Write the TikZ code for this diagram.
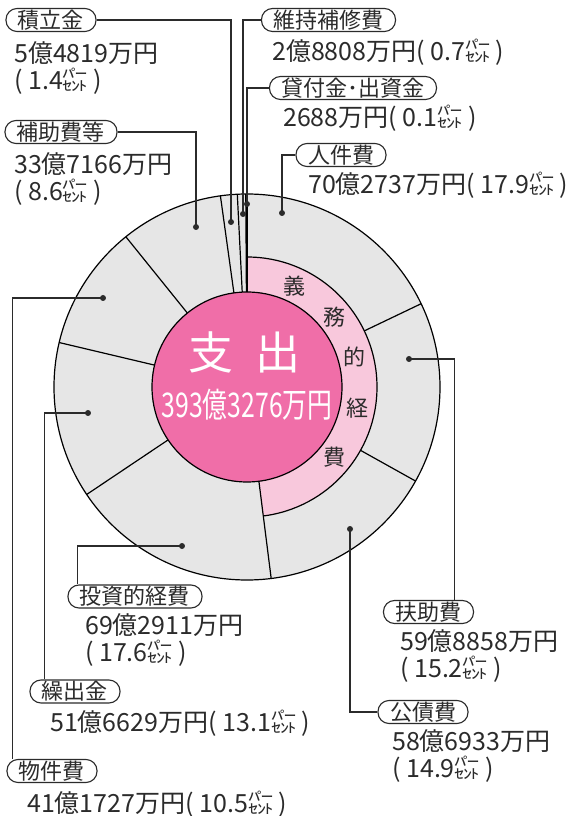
\documentclass[tikz,border=0pt]{standalone}
\usepackage{fontspec}
\setmainfont{Noto Sans CJK JP}
\definecolor{piegray}{HTML}{E6E6E6}
\definecolor{centerpink}{HTML}{F06EA8}
\definecolor{ringpink}{HTML}{F8C8DC}
\definecolor{inkgray}{HTML}{2B2B2B}
\tikzset{x=1pt, y=1pt,
pieline/.style={ % Sets the slice borders
draw=black,
line width=1.2pt},
leader/.style={ % Lines from slice to its box
draw=inkgray,
line width=1.1pt},
kbox/.style={ % Rounded box round each item name
draw=inkgray,
line width=1.1pt,
rounded corners=11pt,
fill=white,
text=inkgray,
inner xsep=12pt, inner ysep=0pt,
minimum height=23pt,
font=\fontsize{22}{22}\selectfont},
amount/.style={ % Money and share under each box
anchor=west,
align=left,
inner sep=0pt,
text=inkgray,
font=\fontsize{25}{27}\selectfont},
ringchar/.style={
text=inkgray,
inner sep=0pt,
font=\fontsize{22}{22}\selectfont}}

\begin{document}
\begin{tikzpicture}
	\useasboundingbox (-247,-429) rectangle (327,387);
	% pie
	\fill[piegray] (0,0) circle (193);
	\fill[ringpink] (90:130) arc[start angle=90, end angle=-82.8, radius=130]
		-- (-82.8:95) arc[start angle=-82.8, end angle=90, radius=95] -- cycle;
	\draw[pieline] (90:130) arc[start angle=90, end angle=-82.8, radius=130];
	\foreach \a/\r in {90/95, 25.56/130, -29.16/130, -82.8/95, -146.16/95,
		-193.32/95, -231.12/95, -262.08/95, -267.12/95, -269.64/95}
		\draw[pieline] (\a:\r) -- (\a:193);
	\draw[pieline] (0,0) circle (193);
	\node[circle, draw=black, line width=1.2pt, fill=centerpink, minimum size=190pt, inner sep=0pt] (center) at (0,0) {};
	\node[text=white, inner sep=0pt, font=\fontsize{45}{45}\selectfont] (shishutsu) at (-2,35) {支\hspace{22pt}出};
	\node[text=white, inner sep=0pt, font=\fontsize{34}{34}\selectfont] (total) at (0,-18) {\scalebox{0.73}[1]{393億3276万円}};
	\foreach \ch/\a [count=\i] in {義/64.8, 務/38.7, 的/15.7, 経/-10.8, 費/-38.8}
		\node[ringchar] (g\i) at (\a:112) {\ch};

	% dots on the slices
	\coordinate (d-jinken) at (35,174);
	\coordinate (d-kashi) at (0,183);
	\coordinate (d-iji) at (-4,173);
	\coordinate (d-tsumi) at (-16,165);
	\coordinate (d-hojo) at (-51,160);
	\coordinate (d-buppin) at (-144,89);
	\coordinate (d-kuri) at (-159,-26);
	\coordinate (d-toshi) at (-65,-159);
	\coordinate (d-fujo) at (162,28);
	\coordinate (d-kosai) at (103,-142);

	% item boxes
	\node[kbox] (tsumi) at (-196,367) {積立金};
	\node[kbox] (hojo) at (-186,255) {補助費等};
	\node[kbox] (iji) at (81.5,367) {維持補修費};
	\node[kbox] (kashi) at (106,299) {貸付金･出資金};
	\node[kbox] (jinken) at (94,232) {人件費};
	\node[kbox] (fujo) at (181.5,-225) {扶助費};
	\node[kbox] (kosai) at (176,-325) {公債費};
	\node[kbox] (toshi) at (-112,-209.5) {投資的経費};
	\node[kbox] (kuri) at (-172,-304.5) {繰出金};
	\node[kbox] (buppin) at (-195,-384) {物件費};

	% leaders
	\draw[leader] (d-tsumi) |- (tsumi.east);
	\draw[leader] (d-hojo) |- (hojo.east);
	\draw[leader] (d-iji) |- (iji.west);
	\draw[leader] (d-kashi) |- (kashi.west);
	\draw[leader] (d-jinken) |- (jinken.west);
	\draw[leader] (d-fujo) -| ([xshift=-20pt]fujo.north east);
	\draw[leader] (d-kosai) |- (kosai.west);
	\draw[leader] (d-toshi) -| ([xshift=10pt]toshi.north west);
	\draw[leader] (d-kuri) -| ([xshift=15pt]kuri.north west);
	\draw[leader] (d-buppin) -| ([xshift=6pt]buppin.north west);
	\foreach \d in {jinken, kashi, iji, tsumi, hojo, buppin, kuri, toshi, fujo, kosai}
		\fill[inkgray] (d-\d) circle (3);

	% amounts
	\node[amount] (a-tsumi) at (-233,319.5) {5億4819万円\\( 1.4㌫ )};
	\node[amount] (a-hojo) at (-233,208) {33億7166万円\\( 8.6㌫ )};
	\node[amount] (a-iji) at (25,335) {2億8808万円( 0.7㌫ )};
	\node[amount] (a-kashi) at (36,269) {2688万円( 0.1㌫ )};
	\node[amount] (a-jinken) at (61,202) {70億2737万円( 17.9㌫ )};
	\node[amount] (a-fujo) at (153,-268.5) {59億8858万円\\( 15.2㌫ )};
	\node[amount] (a-kosai) at (145,-368.5) {58億6933万円\\( 14.9㌫ )};
	\node[amount] (a-toshi) at (-162,-252.5) {69億2911万円\\( 17.6㌫ )};
	\node[amount] (a-kuri) at (-197,-336) {51億6629万円( 13.1㌫ )};
	\node[amount] (a-buppin) at (-220,-417) {41億1727万円( 10.5㌫ )};
\end{tikzpicture}
\end{document}
